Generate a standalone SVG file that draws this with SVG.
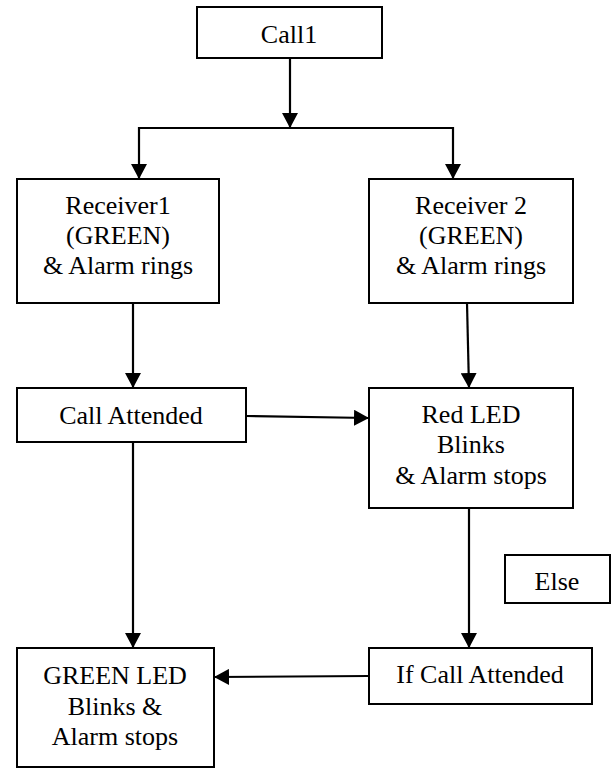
<svg xmlns="http://www.w3.org/2000/svg" width="613" height="769" viewBox="0 0 613 769">
<style>
.box{fill:#fff;stroke:#000;stroke-width:2}
.t{font-family:"Liberation Serif","Times New Roman",serif;font-size:26px;fill:#000;text-anchor:middle}
.c{fill:none;stroke:#000;stroke-width:2.2}
</style>
<defs>
<marker id="ah" markerUnits="userSpaceOnUse" markerWidth="15" markerHeight="16" viewBox="0 0 15 16" refX="15" refY="8" orient="auto">
<path d="M0,0 L15,8 L0,16 Z" fill="#000"/>
</marker>
</defs>
<rect width="613" height="769" fill="#fff"/>
<g id="connectors">
<line class="c" x1="290" y1="58" x2="290" y2="128" marker-end="url(#ah)"/>
<line class="c" x1="138" y1="128" x2="453" y2="128"/>
<line class="c" x1="139" y1="127" x2="139" y2="179" marker-end="url(#ah)"/>
<line class="c" x1="453" y1="127" x2="453" y2="179" marker-end="url(#ah)"/>
<line class="c" x1="133" y1="303" x2="133" y2="388" marker-end="url(#ah)"/>
<line class="c" x1="467" y1="303" x2="469" y2="388" marker-end="url(#ah)"/>
<line class="c" x1="246" y1="416" x2="369" y2="418" marker-end="url(#ah)"/>
<line class="c" x1="133" y1="442" x2="133" y2="648" marker-end="url(#ah)"/>
<line class="c" x1="469" y1="508" x2="469" y2="648" marker-end="url(#ah)"/>
<line class="c" x1="369" y1="676" x2="214" y2="677" marker-end="url(#ah)"/>
</g>
<g id="call1">
<rect class="box" x="197" y="7" width="185" height="51"/>
<text class="t" x="289" y="43">Call1</text>
</g>
<g id="receiver1">
<rect class="box" x="17" y="179" width="202" height="124"/>
<text class="t" x="118" y="214">Receiver1</text>
<text class="t" x="118" y="244">(GREEN)</text>
<text class="t" x="118" y="274">&amp; Alarm rings</text>
</g>
<g id="receiver2">
<rect class="box" x="369" y="179" width="204" height="124"/>
<text class="t" x="471" y="214">Receiver 2</text>
<text class="t" x="471" y="244">(GREEN)</text>
<text class="t" x="471" y="274">&amp; Alarm rings</text>
</g>
<g id="call-attended">
<rect class="box" x="17" y="388" width="229" height="54"/>
<text class="t" x="131" y="424">Call Attended</text>
</g>
<g id="red-led">
<rect class="box" x="369" y="388" width="204" height="120"/>
<text class="t" x="471" y="423">Red LED</text>
<text class="t" x="471" y="453">Blinks</text>
<text class="t" x="471" y="484">&amp; Alarm stops</text>
</g>
<g id="else">
<rect class="box" x="505" y="555" width="105" height="48"/>
<text class="t" x="557" y="590">Else</text>
</g>
<g id="green-led">
<rect class="box" x="17" y="648" width="197" height="119"/>
<text class="t" x="115" y="684">GREEN LED</text>
<text class="t" x="115" y="715">Blinks &amp;</text>
<text class="t" x="115" y="745">Alarm stops</text>
</g>
<g id="if-call-attended">
<rect class="box" x="369" y="648" width="223" height="56"/>
<text class="t" x="480" y="683">If Call Attended</text>
</g>
</svg>
